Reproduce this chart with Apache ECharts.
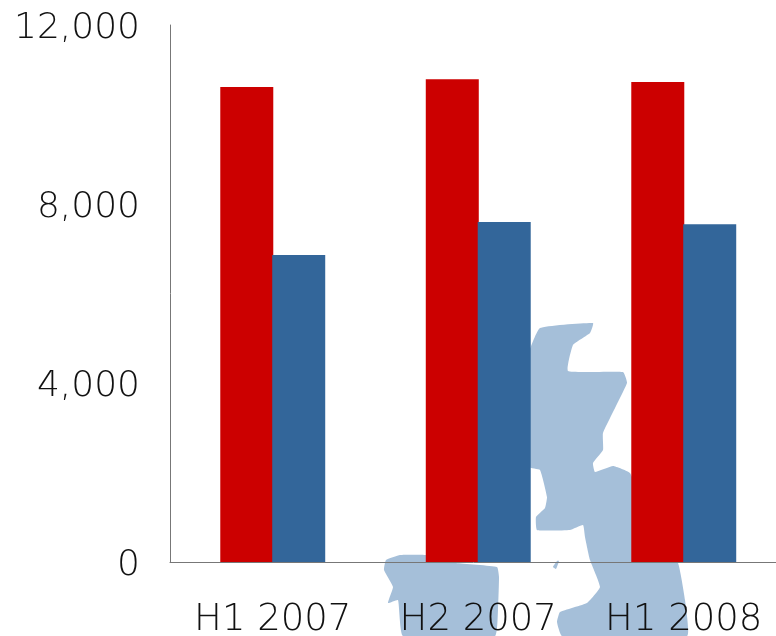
<!DOCTYPE html>
<html>
<head>
<meta charset="utf-8">
<style>
  html, body { margin: 0; padding: 0; background: #fff; }
  #chart { width: 776px; height: 636px; overflow: hidden; }
</style>
<script src="https://cdn.jsdelivr.net/npm/echarts@6/dist/echarts.min.js"></script>
</head>
<body>
<div id="chart"></div>
<script>
var categories = ["H1 2007", "H2 2007", "H1 2008"];
var redValues = [10615, 10790, 10725];
var blueValues = [6860, 7600, 7550];
var yTicks = { min: 0, max: 12000, interval: 4000 };

// backdrop map of the UK and Ireland, just decoration behind the bars
var britainOutline = [
  [540, 328], [593, 323], [590, 333], [573, 345], [568, 371], [623, 372], [627, 383],
  [603, 433], [603, 450], [593, 463], [595, 472], [613, 466], [630, 473], [650, 520],
  [678, 563], [685, 600], [687, 636], [562, 636], [557, 622], [560, 612], [587, 603],
  [600, 587], [590, 560], [585, 537], [583, 525], [570, 530], [537, 530], [536, 517],
  [545, 508], [547, 497], [540, 470], [529, 467], [529, 353]
];
var irelandOutline = [
  [386, 560], [400, 555], [426, 555], [456, 563], [497, 567], [499, 577], [498, 610],
  [495, 636], [403, 636], [398, 600], [388, 603], [393, 587], [384, 570]
];
var isleOutline = [[557, 561], [559, 561], [556, 569], [553, 567]];

var chart = echarts.init(document.getElementById("chart"));

function mapShape(points) {
  return {
    type: "polygon",
    z: -10,
    silent: true,
    shape: { points: points, smooth: 0.12 },
    style: { fill: "#a5bfd9" }
  };
}

var axisFont = {
  color: "#111111",
  fontFamily: "DejaVu Sans Light, DejaVu Sans"
};

var option = {
  animation: false,
  backgroundColor: "#ffffff",
  color: ["#cc0000", "#33669a"],
  graphic: {
    elements: [mapShape(britainOutline), mapShape(irelandOutline), mapShape(isleOutline)]
  },
  // plot runs a little past the right edge of the page
  grid: { left: 170, width: 616.5, top: 25, height: 537, outerBoundsMode: "none" },
  xAxis: {
    type: "category",
    data: categories,
    axisLine: { lineStyle: { color: "#777777", width: 1 } },
    axisTick: { show: false },
    axisLabel: Object.assign({ margin: 40, fontSize: 37, interval: 0 }, axisFont)
  },
  yAxis: {
    type: "value",
    min: yTicks.min,
    max: yTicks.max,
    interval: yTicks.interval,
    axisLine: { show: true, lineStyle: { color: "#777777", width: 1 } },
    axisTick: { show: false },
    splitLine: { show: false },
    axisLabel: Object.assign({
      margin: 30,
      fontSize: 36,
      formatter: function (v) { return "{a|" + v.toLocaleString("en-US") + "}"; },
      rich: {
        // nudges the numbers down a bit off the tick position
        a: Object.assign({ fontSize: 36, padding: [8, 0, 0, 0] }, axisFont)
      }
    }, axisFont)
  },
  series: [
    { type: "bar", name: "Red", data: redValues, barWidth: 53, barGap: "-2%" },
    { type: "bar", name: "Blue", data: blueValues, barWidth: 53, barGap: "-2%" }
  ]
};

chart.setOption(option);
</script>
</body>
</html>
